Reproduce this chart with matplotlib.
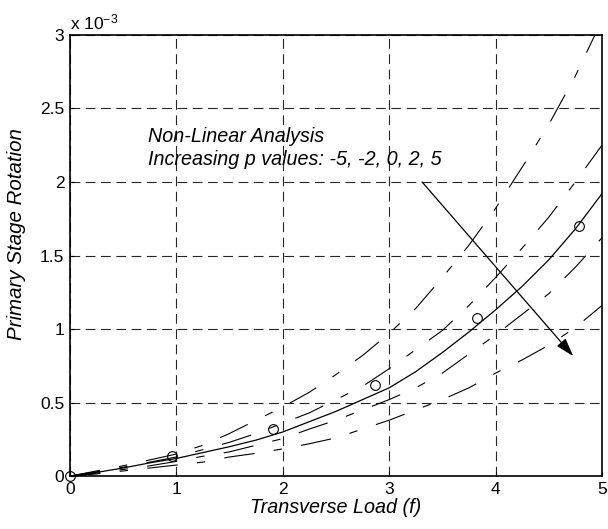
import numpy as np
import matplotlib
matplotlib.use("Agg")
import matplotlib.pyplot as plt

plt.rcParams['font.family'] = 'Liberation Sans'
plt.rcParams['mathtext.default'] = 'regular'
plt.rcParams['lines.scale_dashes'] = False

# load steps (units of 1e-3 for rotation)
x_load = [0, 0.25, 0.5, 0.75, 1.0, 1.25, 1.5, 1.75, 2.0, 2.25, 2.5,
          2.75, 3.0, 3.25, 3.5, 3.75, 4.0, 4.25, 4.5, 4.75, 5.0]
rot_p_m5 = [0, 0.035, 0.07, 0.11, 0.15, 0.21, 0.29, 0.38, 0.47, 0.57, 0.69,
            0.82, 0.97, 1.14, 1.35, 1.57, 1.82, 2.10, 2.39, 2.72, 3.10]
rot_p_m2 = [0, 0.03, 0.06, 0.095, 0.13, 0.18, 0.23, 0.29, 0.36, 0.43, 0.52,
            0.61, 0.73, 0.86, 0.99, 1.16, 1.35, 1.55, 1.76, 2.00, 2.25]
rot_p_0 = [0, 0.025, 0.055, 0.09, 0.12, 0.16, 0.20, 0.245, 0.30, 0.37, 0.44,
           0.52, 0.60, 0.71, 0.84, 0.98, 1.13, 1.29, 1.47, 1.68, 1.92]
rot_p_2 = [0, 0.02, 0.045, 0.07, 0.10, 0.135, 0.165, 0.21, 0.255, 0.32, 0.38,
           0.45, 0.52, 0.60, 0.70, 0.83, 0.96, 1.10, 1.24, 1.42, 1.62]
rot_p_5 = [0, 0.015, 0.035, 0.055, 0.075, 0.095, 0.13, 0.155, 0.185, 0.22, 0.26,
           0.32, 0.38, 0.45, 0.52, 0.60, 0.70, 0.79, 0.89, 1.01, 1.16]

# open circles
x_pts = [0, 0.96, 1.91, 2.87, 3.83, 4.78]
rot_pts = [0, 0.136, 0.32, 0.62, 1.075, 1.70]

fig = plt.figure(figsize=(6.08, 5.29), dpi=100)
ax = fig.add_axes([0.115, 0.100, 0.875, 0.834])

dashdot = (0, (22, 14, 6, 14))
for y in [rot_p_m5, rot_p_m2, rot_p_2, rot_p_5]:
    ax.plot(x_load, y, color='k', lw=0.8, linestyle=dashdot)
ax.plot(x_load, rot_p_0, color='k', lw=0.9)
ax.plot(x_pts, rot_pts, 'o', mfc='none', mec='k', ms=7, mew=0.8, clip_on=False)

ax.text(0.73, 2.27, 'Non-Linear Analysis', fontsize=14.2, style='italic')
ax.text(0.73, 2.115, 'Increasing p values: -5, -2, 0, 2, 5', fontsize=14.2, style='italic')
ax.annotate('', xy=(4.73, 0.816), xytext=(3.31, 2.0),
            arrowprops=dict(arrowstyle='-|>,head_length=0.8,head_width=0.25',
                            color='k', lw=0.9, mutation_scale=14,
                            shrinkA=0, shrinkB=0))

ax.set_xlim(0, 5)
ax.set_ylim(0, 3)
ax.set_xticks([0, 1, 2, 3, 4, 5])
ax.set_yticks([0, 0.5, 1, 1.5, 2, 2.5, 3])
ax.set_yticklabels(['0', '0.5', '1', '1.5', '2', '2.5', '3'])
ax.grid(True, color='0.15', lw=0.8, linestyle=(0, (7, 4)))
ax.tick_params(direction='in', length=3, labelsize=12.5, pad=4)
for s in ax.spines.values():
    s.set_linewidth(1.2)

ax.set_xlabel('Transverse Load (f)', fontsize=14.2, style='italic', labelpad=1)
ax.set_ylabel('Primary Stage Rotation', fontsize=14.8, style='italic')
ax.yaxis.set_label_coords(-0.083, 0.549)
ax.text(0.0, 1.012, r'x 10$^{-3}$', transform=ax.transAxes, fontsize=12.5)

fig.savefig('out.png', dpi=100)
